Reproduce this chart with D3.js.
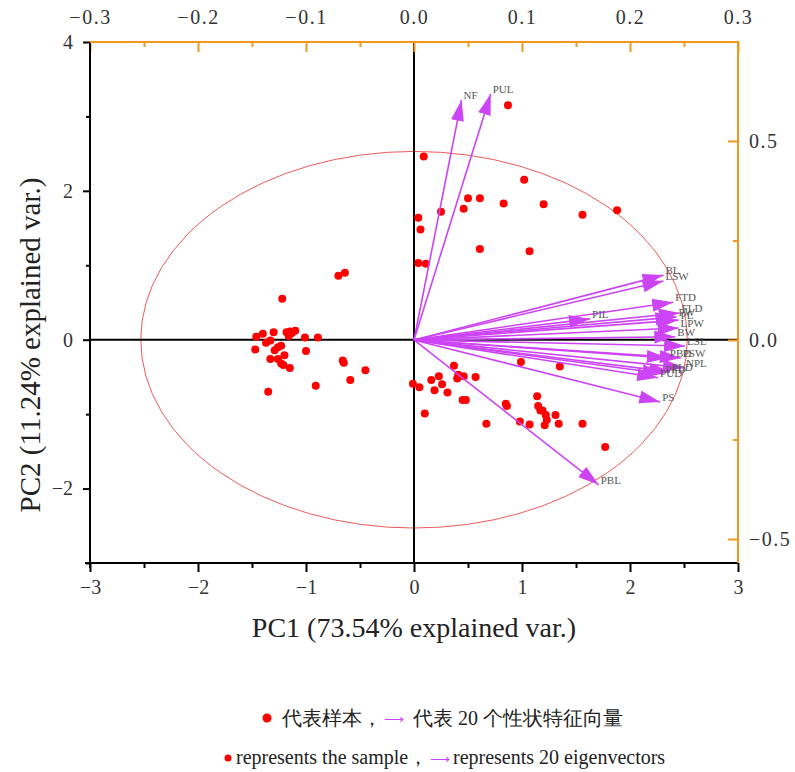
<!DOCTYPE html>
<html><head><meta charset="utf-8">
<script src="https://cdn.jsdelivr.net/npm/d3@7"></script>
<style>
body{margin:0;background:#fff;}
text{font-family:"Liberation Serif","Times New Roman",serif;}
</style></head>
<body><svg id="c" width="795" height="772"></svg>
<script>
// PC scores of samples [PC1, PC2]
const samplePC1 = [0.09,1.02,0.50,0.61,0.83,1.20,1.56,1.88,0.25,0.46,0.04,0.06,0.61,1.07,0.04,0.11,0.87,
  -0.01,0.05,0.16,0.23,0.19,0.26,0.31,0.37,0.41,0.40,0.46,0.57,0.45,0.48,0.10,0.67,0.85,0.86,0.99,1.35,0.98,1.07,1.14,1.15,1.17,1.19,1.22,1.23,1.21,1.31,1.34,1.56,1.77,
  -0.70,-0.64,-1.22,-1.46,-1.40,-1.30,-1.37,-1.33,-1.18,-1.15,-1.13,-1.10,-1.16,-1.01,-0.89,-1.47,-1.29,-1.26,-1.23,-1.33,-1.26,-1.20,-1.23,-1.21,-1.15,-1.00,-0.66,-0.65,-0.45,-0.59,-0.91,-1.35];
const samplePC2 = [2.46,2.15,1.90,1.90,1.83,1.82,1.68,1.74,1.72,1.76,1.64,1.48,1.22,1.19,1.03,1.02,3.15,
  -0.59,-0.64,-0.54,-0.49,-0.68,-0.60,-0.71,-0.35,-0.47,-0.52,-0.49,-0.50,-0.81,-0.81,-0.99,-1.13,-0.86,-0.89,-0.30,-0.36,-1.10,-1.14,-0.76,-0.89,-0.95,-0.95,-1.01,-1.08,-1.15,-1.01,-1.13,-1.13,-1.44,
  0.86,0.90,0.55,0.04,0.08,0.10,-0.04,-0.01,0.10,0.11,0.09,0.12,0.05,0.03,0.03,-0.13,-0.14,-0.10,-0.08,-0.26,-0.26,-0.21,-0.32,-0.34,-0.38,-0.15,-0.28,-0.31,-0.41,-0.54,-0.62,-0.70];

// trait loadings (eigenvectors)
const traitNames = ["NF","PUL","BL","LSW","FTD","FLD","PW","PL","LPW","BW","LSL","PIL","PBD","PSW","NPL","PLD","PUD","PFD","PS","PBL"];
const loadPC1 = [0.044,0.071,0.231,0.231,0.240,0.246,0.243,0.245,0.245,0.242,0.251,0.163,0.235,0.247,0.250,0.237,0.226,0.231,0.228,0.171];
const loadPC2 = [0.603,0.618,0.163,0.148,0.095,0.068,0.058,0.050,0.030,0.008,-0.015,0.053,-0.045,-0.045,-0.070,-0.080,-0.095,-0.085,-0.156,-0.364];

const circleRadius = 2.53;

const xTicks = [-3,-2,-1,0,1,2,3];
const xMinor = [-2.5,-1.5,-0.5,0.5,1.5,2.5];
const yTicks = [-2,0,2,4];
const yMinor = [-3,-1,1,3];
const topTicks = [-0.3,-0.2,-0.1,0,0.1,0.2,0.3];
const topMinor = [-0.25,-0.15,-0.05,0.05,0.15,0.25];
const rightTicks = [-0.5,0,0.5];
const rightMinor = [-0.25,0.25];

const svg = d3.select("#c");
const L=90,R=738,T=42,B=563;
const x = d3.scaleLinear([-3,3],[L,R]);
const y = d3.scaleLinear([-3,4],[B,T]);
const xl = d3.scaleLinear([-0.3,0.3],[L,R]);
const yl = d3.scaleLinear([-0.5603,0.7487],[B,T]);
const orange = "#f4971f";
const purple = "#cc44f5";

// ellipse (circle in PC units)
svg.append("ellipse").attr("cx",x(0)).attr("cy",y(0))
  .attr("rx",x(circleRadius)-x(0)).attr("ry",y(0)-y(circleRadius))
  .attr("fill","none").attr("stroke","#ee5a5a").attr("stroke-width",1);

// zero lines
svg.append("line").attr("x1",L).attr("x2",R).attr("y1",y(0)).attr("y2",y(0)).attr("stroke","#000").attr("stroke-width",2);
svg.append("line").attr("x1",x(0)).attr("x2",x(0)).attr("y1",T).attr("y2",B).attr("stroke","#000").attr("stroke-width",2);

// points
svg.append("g").selectAll("circle").data(samplePC1.map((d,i)=>[d,samplePC2[i]])).join("circle")
  .attr("cx",d=>x(d[0])).attr("cy",d=>y(d[1])).attr("r",4).attr("fill","#ff0000");

// arrows
const defs = svg.append("defs");
defs.append("marker").attr("id","ah").attr("markerUnits","userSpaceOnUse")
  .attr("markerWidth",24).attr("markerHeight",16).attr("viewBox","0 -8 24 16")
  .attr("refX",21).attr("refY",0).attr("orient","auto")
  .append("path").attr("d","M0,-6.5L21,0L0,6.5Z").attr("fill",purple);
const traits = traitNames.map((n,i)=>({n,a:loadPC1[i],b:loadPC2[i]}));
svg.append("g").selectAll("line").data(traits).join("line")
  .attr("x1",xl(0)).attr("y1",yl(0)).attr("x2",d=>xl(d.a)).attr("y2",d=>yl(d.b))
  .attr("stroke",purple).attr("stroke-width",1.6).attr("marker-end","url(#ah)");
svg.append("g").selectAll("text").data(traits).join("text")
  .attr("x",d=>xl(d.a)+2).attr("y",d=>yl(d.b)-1)
  .attr("font-size",11).attr("fill","#555").text(d=>d.n);

// axes
function style(g,color,ls){
  g.selectAll(".domain").remove();
  g.selectAll("line").attr("stroke",color).attr("stroke-width",2);
  g.selectAll("text").attr("fill","#333").attr("font-size",20).attr("font-family","'Liberation Serif',serif")
    .attr("letter-spacing",ls||0);
}
const bx = svg.append("g").attr("transform",`translate(0,${B})`)
  .call(d3.axisBottom(x).tickValues(xTicks).tickSize(9).tickPadding(8).tickFormat(d3.format("d")));
style(bx,"#000");
const bxm = svg.append("g").attr("transform",`translate(0,${B})`)
  .call(d3.axisBottom(x).tickValues(xMinor).tickSize(5).tickFormat(""));
style(bxm,"#000");
const ly = svg.append("g").attr("transform",`translate(${L},0)`)
  .call(d3.axisLeft(y).tickValues(yTicks).tickSize(7).tickPadding(10).tickFormat(d3.format("d")));
style(ly,"#000");
const lym = svg.append("g").attr("transform",`translate(${L},0)`)
  .call(d3.axisLeft(y).tickValues(yMinor).tickSize(4).tickFormat(""));
style(lym,"#000");
const tx = svg.append("g").attr("transform",`translate(0,${T})`)
  .call(d3.axisTop(xl).tickValues(topTicks).tickSize(-10).tickPadding(18).tickFormat(d3.format(".1f")));
style(tx,orange,1.5);
const txm = svg.append("g").attr("transform",`translate(0,${T})`)
  .call(d3.axisTop(xl).tickValues(topMinor).tickSize(-5).tickFormat(""));
style(txm,orange);
const ry = svg.append("g").attr("transform",`translate(${R},0)`)
  .call(d3.axisRight(yl).tickValues(rightTicks).tickSize(-10).tickPadding(11).tickFormat(d3.format(".1f")));
style(ry,orange,1.5);
const rym = svg.append("g").attr("transform",`translate(${R},0)`)
  .call(d3.axisRight(yl).tickValues(rightMinor).tickSize(-5).tickFormat(""));
style(rym,orange);

// frame lines
svg.append("line").attr("x1",L-5).attr("x2",R).attr("y1",B).attr("y2",B).attr("stroke","#000").attr("stroke-width",2);
svg.append("line").attr("x1",L).attr("x2",L).attr("y1",T).attr("y2",B+5).attr("stroke","#000").attr("stroke-width",2);
svg.append("line").attr("x1",L).attr("x2",R+1).attr("y1",T).attr("y2",T).attr("stroke",orange).attr("stroke-width",2);
svg.append("line").attr("x1",R).attr("x2",R).attr("y1",T).attr("y2",B).attr("stroke",orange).attr("stroke-width",2);

// axis titles
svg.append("text").attr("x",x(0)).attr("y",637).attr("text-anchor","middle")
  .attr("font-size",28).attr("fill","#222").text("PC1 (73.54% explained var.)");
svg.append("text").attr("transform","translate(40,345) rotate(-90)").attr("text-anchor","middle")
  .attr("font-size",29).attr("fill","#222").text("PC2 (11.24% explained var.)");

// legend
const lg = svg.append("g");
lg.append("circle").attr("cx",267).attr("cy",718).attr("r",4.5).attr("fill","#ff0000");
lg.append("text").attr("x",282).attr("y",725).attr("font-size",19.5).attr("fill","#222")
  .attr("font-family","'Noto Sans CJK SC',sans-serif").text("代表样本，");
lg.append("text").attr("x",384).attr("y",724).attr("font-size",13.5).attr("fill",purple)
  .attr("font-family","'DejaVu Sans',sans-serif").text("⟶");
lg.append("text").attr("x",413).attr("y",725).attr("font-size",20).attr("fill","#222")
  .attr("font-family","'Noto Sans CJK SC',sans-serif").text("代表 20 个性状特征向量");
lg.append("circle").attr("cx",228).attr("cy",758).attr("r",3.5).attr("fill","#ff0000");
lg.append("text").attr("x",236).attr("y",764).attr("font-size",20).attr("fill","#222").text("represents the sample，");
lg.append("text").attr("x",430).attr("y",764).attr("font-size",13.5).attr("fill",purple)
  .attr("font-family","'DejaVu Sans',sans-serif").text("⟶");
lg.append("text").attr("x",453).attr("y",764).attr("font-size",20).attr("fill","#222").text("represents 20 eigenvectors");
</script></body></html>
